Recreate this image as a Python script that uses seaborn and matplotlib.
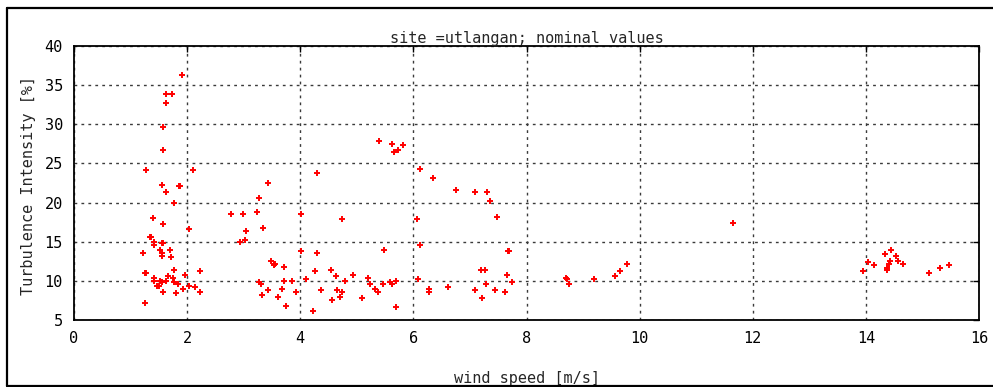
import matplotlib
matplotlib.use('Agg')
import matplotlib.pyplot as plt
from matplotlib.lines import Line2D
import seaborn as sns
import pandas as pd

# wind speed [m/s] and turbulence intensity [%]
wind_speed = [
    1.91, 1.63, 1.74, 1.63, 1.57, 1.58, 1.27, 2.10, 1.55, 1.86, 1.88, 1.63, 1.77, 1.39, 1.57, 2.03,
    1.35, 1.37, 1.41, 1.41, 1.55, 1.57, 1.22, 1.52, 1.55, 1.55, 1.69, 1.72, 1.25, 1.27, 1.77, 2.22,
    1.41, 1.41, 1.66, 1.75, 1.97, 1.52, 1.55, 1.63, 1.77, 1.83, 1.47, 1.50, 2.03, 2.14, 1.93, 1.58,
    1.80, 2.22, 1.25,
    2.77, 2.99, 3.23, 3.27, 3.43, 3.04, 3.35, 2.93, 3.02, 3.49, 3.53, 3.55, 3.71, 3.27, 3.30, 3.71,
    3.85, 3.68, 3.43, 3.32, 3.60, 3.93, 3.74, 4.01, 4.01, 4.10, 4.29, 4.29, 4.26, 4.37, 4.23,
    4.73, 4.54, 4.63, 4.93, 4.79, 4.65, 4.74, 4.70, 4.57, 5.09, 5.20, 5.24, 5.32, 5.37, 5.40, 5.62,
    5.65, 5.73, 5.82, 5.48, 5.46, 5.59, 5.62, 5.70, 5.70, 6.12, 6.34, 6.06, 6.12, 6.09, 6.28, 6.28,
    6.62,
    6.76, 7.09, 7.31, 7.36, 7.48, 7.20, 7.26, 7.28, 7.09, 7.22, 7.45, 7.62, 7.65, 7.67, 7.69, 7.75,
    8.69, 8.71, 8.75, 9.20, 9.56, 9.66, 9.78, 11.65,
    13.95, 14.04, 14.14, 14.34, 14.45, 14.42, 14.40, 14.37, 14.37, 14.53, 14.56, 14.65, 15.11, 15.31,
    15.47,
]
turbulence = [
    36.3, 33.9, 33.9, 32.7, 29.7, 26.7, 24.1, 24.1, 22.3, 22.1, 22.1, 21.3, 19.9, 18.0, 17.2, 16.6,
    15.6, 15.6, 15.0, 14.6, 14.8, 14.8, 13.6, 13.9, 13.6, 13.2, 14.0, 13.0, 11.0, 11.0, 11.4, 11.2,
    10.4, 10.0, 10.6, 10.4, 10.8, 10.0, 9.8, 10.0, 9.8, 9.6, 9.4, 9.4, 9.4, 9.2, 9.0, 8.6,
    8.4, 8.6, 7.2,
    18.6, 18.6, 18.8, 20.6, 22.5, 16.4, 16.8, 15.0, 15.2, 12.6, 12.0, 12.2, 11.8, 9.8, 9.6, 10.0,
    10.0, 9.0, 8.8, 8.2, 8.0, 8.6, 6.8, 18.6, 13.8, 10.2, 23.8, 13.6, 11.2, 8.8, 6.2,
    17.9, 11.4, 10.6, 10.8, 10.0, 8.8, 8.6, 8.0, 7.6, 7.8, 10.4, 9.6, 9.0, 8.6, 27.9, 27.5,
    26.5, 26.7, 27.3, 14.0, 9.6, 9.8, 9.6, 10.0, 6.6, 24.3, 23.2, 17.9, 14.6, 10.2, 9.0, 8.6,
    9.2,
    21.6, 21.4, 21.4, 20.2, 18.2, 11.4, 11.4, 9.6, 8.8, 7.8, 8.8, 8.6, 10.8, 13.8, 13.8, 9.8,
    10.4, 10.2, 9.6, 10.2, 10.6, 11.2, 12.2, 17.4,
    11.2, 12.4, 12.0, 13.4, 14.0, 12.6, 12.1, 11.7, 11.4, 13.2, 12.6, 12.2, 11.0, 11.6,
    12.0,
]
x_ticks = [0, 2, 4, 6, 8, 10, 12, 14, 16]
y_ticks = [5, 10, 15, 20, 25, 30, 35, 40]

df = pd.DataFrame({'wind speed': wind_speed, 'TI': turbulence})

sns.set_style('white')
plt.rcParams['font.family'] = ['DejaVu Sans Mono']

fig = plt.figure(figsize=(9.93, 3.87), dpi=100)
ax = fig.add_axes([74 / 993, 1 - 320 / 387, 905 / 993, 274 / 387])

sns.scatterplot(data=df, x='wind speed', y='TI', marker='+', color='red',
                s=22, linewidth=1.4, ax=ax, zorder=3)

ax.set_xlim(0, 16)
ax.set_ylim(5, 40)
ax.set_xticks(x_ticks)
ax.set_yticks(y_ticks)
ax.tick_params(direction='in', length=4, width=1, top=True, right=True,
               labelsize=11, pad=8, colors='black')
ax.grid(True, color='#3a3a3a', linestyle=(0, (2, 3)), linewidth=1)
for s in ax.spines.values():
    s.set_color('black')
    s.set_linewidth(1.3)

ax.set_title('site =utlangan; nominal values', fontsize=11, pad=2)
ax.set_xlabel('wind speed [m/s]', fontsize=11)
ax.set_ylabel('Turbulence Intensity [%]', fontsize=11)
ax.xaxis.set_label_coords(0.5, -0.185)
ax.yaxis.set_label_coords(-0.05, 0.49)
ax.yaxis.label.set_verticalalignment('center')

# outer frame (top, left, bottom)
for xs, ys in [([7 / 993, 1], [1 - 8 / 387] * 2),
               ([7 / 993] * 2, [1 - 8 / 387, 1 / 387]),
               ([7 / 993, 1], [1 / 387] * 2)]:
    fig.add_artist(Line2D(xs, ys, color='black', linewidth=1.6, transform=fig.transFigure))

fig.savefig('out.png', dpi=100)
